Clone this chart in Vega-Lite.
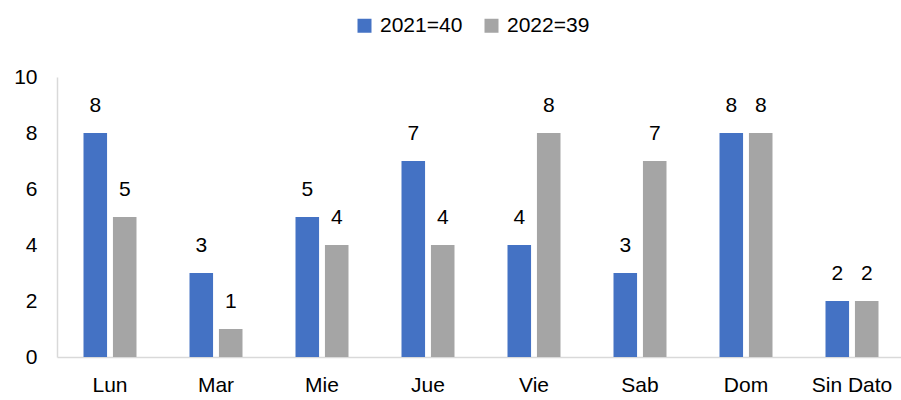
{
  "$schema": "https://vega.github.io/schema/vega-lite/v6.json",
  "autosize": {"type": "none"},
  "padding": {"left": 57, "top": 77, "right": 0, "bottom": 43},
  "width": 848,
  "height": 280,
  "background": "white",
  "config": {"view": {"stroke": null}, "font": "Liberation Sans"},
  "data": {"values": [
    {"dia": "Lun", "anio": "2021", "casos": 8},
    {"dia": "Lun", "anio": "2022", "casos": 5},
    {"dia": "Mar", "anio": "2021", "casos": 3},
    {"dia": "Mar", "anio": "2022", "casos": 1},
    {"dia": "Mie", "anio": "2021", "casos": 5},
    {"dia": "Mie", "anio": "2022", "casos": 4},
    {"dia": "Jue", "anio": "2021", "casos": 7},
    {"dia": "Jue", "anio": "2022", "casos": 4},
    {"dia": "Vie", "anio": "2021", "casos": 4},
    {"dia": "Vie", "anio": "2022", "casos": 8},
    {"dia": "Sab", "anio": "2021", "casos": 3},
    {"dia": "Sab", "anio": "2022", "casos": 7},
    {"dia": "Dom", "anio": "2021", "casos": 8},
    {"dia": "Dom", "anio": "2022", "casos": 8},
    {"dia": "Sin Dato", "anio": "2021", "casos": 2},
    {"dia": "Sin Dato", "anio": "2022", "casos": 2}
  ]},
  "encoding": {
    "x": {
      "field": "dia", "type": "nominal", "sort": null,
      "scale": {"paddingInner": 0.5, "paddingOuter": 0.25},
      "axis": {"title": null, "labelAngle": 0, "ticks": false, "domainColor": "#D9D9D9", "domainWidth": 1.5, "labelFontSize": 21, "labelColor": "#000000", "labelPadding": 17, "labelFont": "Liberation Sans", "labelOverlap": false}
    },
    "xOffset": {"field": "anio", "type": "nominal", "scale": {"paddingInner": 0.2}},
    "y": {
      "field": "casos", "type": "quantitative",
      "scale": {"domain": [0, 10]},
      "axis": {"title": null, "values": [0, 2, 4, 6, 8, 10], "labelOverlap": false, "grid": false, "ticks": false, "domainColor": "#D9D9D9", "domainWidth": 1.5, "labelFontSize": 21, "labelColor": "#000000", "labelPadding": 20, "labelFont": "Liberation Sans"}
    }
  },
  "layer": [
    {
      "mark": {"type": "bar"},
      "encoding": {
        "color": {
          "field": "anio", "type": "nominal",
          "scale": {"domain": ["2021", "2022"], "range": ["#4472C4", "#A5A5A5"]},
          "legend": {
            "title": null, "orient": "none", "direction": "horizontal",
            "legendX": 297, "legendY": -62,
            "symbolType": "square", "symbolSize": 196, "symbolStrokeWidth": 0,
            "labelFontSize": 21, "labelColor": "#000000", "labelFont": "Liberation Sans",
            "columnPadding": 18, "labelOffset": 5,
            "labelExpr": "datum.value == '2021' ? '2021=40' : '2022=39'"
          }
        }
      }
    },
    {
      "mark": {"type": "text", "baseline": "bottom", "dy": -17, "fontSize": 21, "color": "#000000", "font": "Liberation Sans"},
      "encoding": {"text": {"field": "casos", "type": "quantitative"}}
    }
  ]
}
